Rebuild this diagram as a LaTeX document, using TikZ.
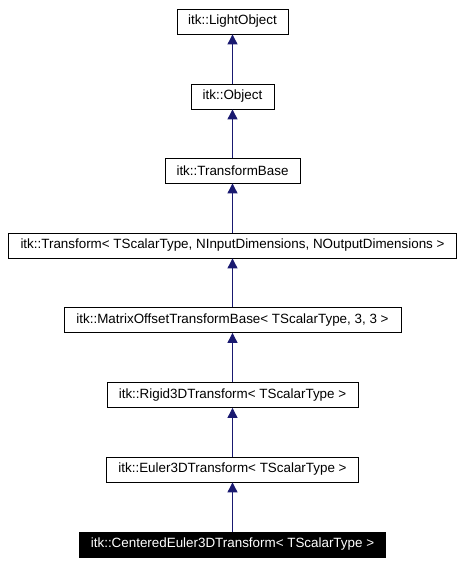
\documentclass[tikz,border=0pt]{standalone}
\usepackage{fontspec}
\setmainfont{Liberation Sans}
\usetikzlibrary{arrows.meta}
\definecolor{edgeblue}{RGB}{25,25,112}
\tikzset{
  cls/.style={draw=black, line width=0.8pt, fill=white, inner sep=0pt, minimum height=25pt, font=\fontsize{13.4}{15}\selectfont, text=black, anchor=center},
  cur/.style={cls, fill=black, text=white},
  inh/.style={draw=edgeblue, line width=0.9pt, -{Triangle[length=10pt,width=10pt]}}
}
\begin{document}
\begin{tikzpicture}[x=1pt,y=-1pt]
\useasboundingbox (0,0) rectangle (463,564);
\node[cls, minimum width=111pt] (a) at (232.5,21.5) {itk::LightObject};
\node[cls, minimum width=83pt] (b) at (232.5,96.5) {itk::Object};
\node[cls, minimum width=135pt] (c) at (232.5,170.5) {itk::TransformBase};
\node[cls, minimum width=448pt] (d) at (232.5,245.5) {itk::Transform< TScalarType, NInputDimensions, NOutputDimensions >};
\node[cls, minimum width=337pt] (e) at (232.5,320) {itk::MatrixOffsetTransformBase< TScalarType, 3, 3 >};
\node[cls, minimum width=251pt] (f) at (232.5,395) {itk::Rigid3DTransform< TScalarType >};
\node[cls, minimum width=252pt] (g) at (232.5,469.5) {itk::Euler3DTransform< TScalarType >};
\node[cur, minimum width=306pt] (h) at (232.5,544.5) {itk::CenteredEuler3DTransform< TScalarType >};
\draw[inh] (b.north) -- (a.south);
\draw[inh] (c.north) -- (b.south);
\draw[inh] (d.north) -- (c.south);
\draw[inh] (e.north) -- (d.south);
\draw[inh] (f.north) -- (e.south);
\draw[inh] (g.north) -- (f.south);
\draw[inh] (h.north) -- (g.south);
\end{tikzpicture}
\end{document}
